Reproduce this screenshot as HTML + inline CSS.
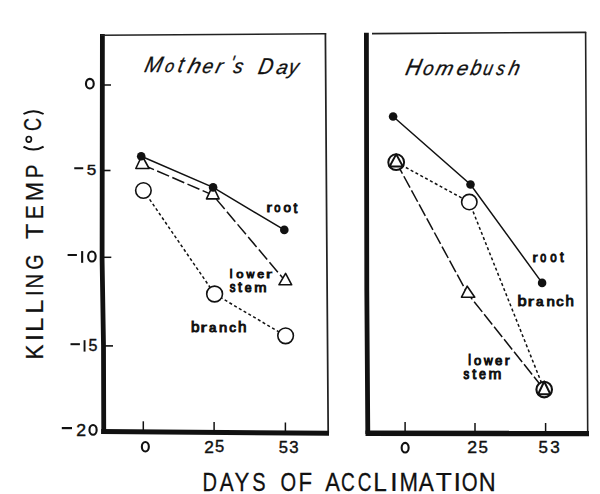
<!DOCTYPE html>
<html><head><meta charset="utf-8">
<style>
html,body{margin:0;padding:0;background:#fff;width:600px;height:494px;overflow:hidden;}
svg{display:block;}
text{font-family:"Liberation Sans",sans-serif;fill:#111;}
.tick{font-size:16px;stroke:#111;stroke-width:0.5px;}
.lab{font-size:16px;stroke:#111;stroke-width:0.7px;}
.ttl{font-size:20px;font-style:italic;}
</style></head>
<body>
<svg width="600" height="494" viewBox="0 0 600 494">
<g stroke="#111" fill="none" stroke-linecap="butt">
  <!-- left panel frame -->
  <path d="M102.4,34 L102.1,260 L103.5,345 L103.75,434" stroke-width="4.8"/>
  <line x1="101" y1="35.2" x2="326.2" y2="33.8" stroke-width="1.6" stroke="#222"/>
  <path d="M325.4,33.2 L326.7,230 L328.2,433" stroke-width="1.75" stroke="#222"/>
  <line x1="101.2" y1="431.6" x2="329" y2="433.3" stroke-width="5"/>
  <!-- y ticks -->
  <line x1="104" y1="85" x2="111" y2="85" stroke-width="1.5"/>
  <line x1="104" y1="170.5" x2="110.5" y2="170.5" stroke-width="1.6"/>
  <line x1="104" y1="257.3" x2="111.3" y2="257.3" stroke-width="1.5"/>
  <line x1="105" y1="345.9" x2="113" y2="345.9" stroke-width="1.6"/>
  <!-- x ticks -->
  <line x1="143.3" y1="421.3" x2="143.3" y2="432" stroke-width="1.5"/>
  <line x1="214.1" y1="422.1" x2="214.1" y2="432" stroke-width="1.5"/>
  <line x1="285.4" y1="422.5" x2="285.4" y2="433" stroke-width="1.5"/>

  <!-- right panel frame -->
  <path d="M366.4,32.7 L366.8,290 L367.8,434" stroke-width="4.8"/>
  <line x1="372" y1="33.6" x2="586.2" y2="32.3" stroke-width="1.7" stroke="#222"/>
  <path d="M585.6,32 L586.7,230 L587.7,433" stroke-width="1.6" stroke="#222"/>
  <line x1="365.5" y1="433.2" x2="589" y2="433.6" stroke-width="5.5"/>
  <line x1="405.1" y1="421.9" x2="405.1" y2="432" stroke-width="1.5"/>
  <line x1="475" y1="423" x2="475" y2="432" stroke-width="1.5"/>
  <line x1="545.6" y1="423" x2="545.6" y2="432" stroke-width="1.5"/>

  <!-- left data -->
  <polyline points="141.2,156.3 213.1,187.4 284.3,229.9" stroke-width="1.5"/>
  <polyline points="142,164.5 212.8,195 285.3,281" stroke-width="1.5" stroke-dasharray="13 3.5"/>
  <polyline points="143.4,190.3 214.6,294 285.6,335.8" stroke-width="1.5" stroke-dasharray="3 2.5"/>
  <!-- right data -->
  <polyline points="393.1,116.5 470.5,184.5 542.1,282.9" stroke-width="1.5"/>
  <polyline points="396.2,162.2 467.2,293 544.2,389.6" stroke-width="1.5" stroke-dasharray="13 3"/>
  <polyline points="396.2,162.2 469.3,202.1 544.2,389.6" stroke-width="1.5" stroke-dasharray="3 2.5"/>
</g>
<!-- markers -->
<g stroke="#111" stroke-width="1.6" stroke-linejoin="round">
  <!-- left: branch circles -->
  <circle cx="143.4" cy="190.5" r="7.75" fill="#fff"/>
  <circle cx="214.6" cy="294" r="7.9" fill="#fff"/>
  <circle cx="285.6" cy="335.8" r="7.8" fill="#fff"/>
  <!-- left: triangles -->
  <polygon points="142,155.5 149.1,168.5 135.8,168.5" fill="#fff"/>
  <polygon points="212.8,185.5 219.1,198.9 206.5,198.9" fill="#fff"/>
  <polygon points="285.6,273.4 291.7,284.8 278.9,284.8" fill="#fff"/>
  <!-- left: root dots -->
  <circle cx="141.2" cy="156.3" r="4.3" fill="#111" stroke="none"/>
  <circle cx="213.1" cy="187.4" r="4.3" fill="#111" stroke="none"/>
  <circle cx="284.3" cy="229.9" r="4.3" fill="#111" stroke="none"/>

  <!-- right: branch circles -->
  <circle cx="396.2" cy="162.2" r="7.9" fill="#fff" stroke-width="2"/>
  <circle cx="469.3" cy="202.1" r="7.7" fill="#fff"/>
  <circle cx="544.2" cy="389.6" r="7.8" fill="#fff" stroke-width="2.1"/>
  <!-- right: triangles -->
  <polygon points="396.2,154.3 402.9,166.5 389.6,166.5" fill="none" stroke-width="1.9"/>
  <polygon points="467.2,286.2 474.8,297.2 461.5,297.2" fill="#fff"/>
  <polygon points="544.2,381.5 550.4,394.2 538.1,394.2" fill="none" stroke-width="2"/>
  <!-- right: root dots -->
  <circle cx="393.1" cy="116.5" r="4.3" fill="#111" stroke="none"/>
  <circle cx="470.5" cy="184.5" r="4.3" fill="#111" stroke="none"/>
  <circle cx="542.1" cy="282.9" r="4.3" fill="#111" stroke="none"/>
</g>

<!-- GEN START -->
<!-- tick labels -->
<ellipse cx="89.85" cy="83.70" rx="3.90" ry="4.85" fill="none" stroke="#111" stroke-width="2.1"/>
<rect x="74.25" y="167.25" width="9.00" height="2.00" fill="#111"/>
<text transform="translate(86.74,175.16) scale(0.1714,0.1556)" style="font-size:100px; stroke:#111; stroke-width:2.45px;">5</text>
<rect x="67.60" y="254.00" width="9.30" height="2.00" fill="#111"/>
<rect x="81.10" y="251.10" width="2.10" height="11.70" fill="#111"/>
<ellipse cx="91.90" cy="256.50" rx="3.75" ry="4.95" fill="none" stroke="#111" stroke-width="2.1"/>
<rect x="70.50" y="343.20" width="9.40" height="2.00" fill="#111"/>
<rect x="83.60" y="340.20" width="1.90" height="11.40" fill="#111"/>
<text transform="translate(88.44,351.46) scale(0.1608,0.1634)" style="font-size:100px; stroke:#111; stroke-width:2.47px;">5</text>
<rect x="61.80" y="427.00" width="10.20" height="2.20" fill="#111"/>
<text transform="translate(76.20,435.52) scale(0.1767,0.1563)" style="font-size:100px; stroke:#111; stroke-width:2.40px;">2</text>
<ellipse cx="93.05" cy="429.90" rx="3.60" ry="4.85" fill="none" stroke="#111" stroke-width="2.1"/>
<ellipse cx="145.35" cy="446.70" rx="3.50" ry="4.75" fill="none" stroke="#111" stroke-width="2.1"/>
<text transform="translate(204.31,452.57) scale(0.1734,0.1663)" style="font-size:100px; stroke:#111; stroke-width:2.36px;">2</text>
<text transform="translate(215.02,452.40) scale(0.1661,0.1663)" style="font-size:100px; stroke:#111; stroke-width:2.41px;">5</text>
<text transform="translate(278.77,452.66) scale(0.1661,0.1591)" style="font-size:100px; stroke:#111; stroke-width:2.46px;">5</text>
<text transform="translate(289.26,452.66) scale(0.1679,0.1569)" style="font-size:100px; stroke:#111; stroke-width:2.46px;">3</text>
<ellipse cx="405.15" cy="447.70" rx="3.50" ry="4.85" fill="none" stroke="#111" stroke-width="2.1"/>
<text transform="translate(467.20,453.32) scale(0.1767,0.1620)" style="font-size:100px; stroke:#111; stroke-width:2.36px;">2</text>
<text transform="translate(478.50,453.16) scale(0.1693,0.1620)" style="font-size:100px; stroke:#111; stroke-width:2.41px;">5</text>
<text transform="translate(538.60,453.16) scale(0.1693,0.1591)" style="font-size:100px; stroke:#111; stroke-width:2.44px;">5</text>
<text transform="translate(550.30,453.16) scale(0.1711,0.1569)" style="font-size:100px; stroke:#111; stroke-width:2.44px;">3</text>
<!-- x label -->
<text transform="translate(202.60,490.89) scale(0.2013,0.2533)" style="font-size:100px; stroke:#111; stroke-width:1.10px;">D</text>
<text transform="translate(219.81,490.89) scale(0.2087,0.2551)" style="font-size:100px; stroke:#111; stroke-width:1.08px;">A</text>
<text transform="translate(234.56,490.89) scale(0.2222,0.2533)" style="font-size:100px; stroke:#111; stroke-width:1.05px;">Y</text>
<text transform="translate(252.31,490.84) scale(0.1996,0.2518)" style="font-size:100px; stroke:#111; stroke-width:1.11px;">S</text>
<text transform="translate(280.61,490.84) scale(0.2011,0.2518)" style="font-size:100px; stroke:#111; stroke-width:1.10px;">O</text>
<text transform="translate(298.44,490.89) scale(0.2219,0.2533)" style="font-size:100px; stroke:#111; stroke-width:1.05px;">F</text>
<text transform="translate(325.20,490.89) scale(0.2208,0.2551)" style="font-size:100px; stroke:#111; stroke-width:1.05px;">A</text>
<text transform="translate(340.91,490.84) scale(0.1909,0.2518)" style="font-size:100px; stroke:#111; stroke-width:1.13px;">C</text>
<text transform="translate(357.86,490.84) scale(0.1901,0.2518)" style="font-size:100px; stroke:#111; stroke-width:1.13px;">C</text>
<text transform="translate(373.16,490.89) scale(0.2444,0.2533)" style="font-size:100px; stroke:#111; stroke-width:1.00px;">L</text>
<text transform="translate(390.08,490.89) scale(0.2816,0.2533)" style="font-size:100px; stroke:#111; stroke-width:0.93px;">I</text>
<text transform="translate(399.54,490.89) scale(0.2220,0.2533)" style="font-size:100px; stroke:#111; stroke-width:1.05px;">M</text>
<text transform="translate(418.70,490.89) scale(0.2254,0.2551)" style="font-size:100px; stroke:#111; stroke-width:1.04px;">A</text>
<text transform="translate(435.65,490.89) scale(0.2633,0.2533)" style="font-size:100px; stroke:#111; stroke-width:0.97px;">T</text>
<text transform="translate(453.47,490.89) scale(0.2711,0.2533)" style="font-size:100px; stroke:#111; stroke-width:0.95px;">I</text>
<text transform="translate(461.69,490.84) scale(0.2040,0.2518)" style="font-size:100px; stroke:#111; stroke-width:1.10px;">O</text>
<text transform="translate(478.64,490.89) scale(0.2344,0.2533)" style="font-size:100px; stroke:#111; stroke-width:1.03px;">N</text>
<!-- y label --><g transform="rotate(-90)">
<text transform="translate(-359.48,42.69) scale(0.2239,0.2330)" style="font-size:100px; stroke:#111; stroke-width:1.09px;">K</text>
<text transform="translate(-341.13,42.69) scale(0.2711,0.2330)" style="font-size:100px; stroke:#111; stroke-width:0.99px;">I</text>
<text transform="translate(-331.95,42.69) scale(0.2579,0.2330)" style="font-size:100px; stroke:#111; stroke-width:1.02px;">L</text>
<text transform="translate(-313.73,42.69) scale(0.2556,0.2330)" style="font-size:100px; stroke:#111; stroke-width:1.02px;">L</text>
<text transform="translate(-296.06,42.69) scale(0.2079,0.2330)" style="font-size:100px; stroke:#111; stroke-width:1.13px;">I</text>
<text transform="translate(-288.51,42.69) scale(0.2031,0.2330)" style="font-size:100px; stroke:#111; stroke-width:1.15px;">N</text>
<text transform="translate(-269.67,42.65) scale(0.1966,0.2335)" style="font-size:100px; stroke:#111; stroke-width:1.16px;">G</text>
<text transform="translate(-239.11,42.69) scale(0.2509,0.2330)" style="font-size:100px; stroke:#111; stroke-width:1.03px;">T</text>
<text transform="translate(-219.27,42.69) scale(0.2106,0.2330)" style="font-size:100px; stroke:#111; stroke-width:1.13px;">E</text>
<text transform="translate(-201.36,42.69) scale(0.2340,0.2330)" style="font-size:100px; stroke:#111; stroke-width:1.07px;">M</text>
<text transform="translate(-178.33,42.69) scale(0.2051,0.2330)" style="font-size:100px; stroke:#111; stroke-width:1.14px;">P</text>
<text transform="translate(-131.09,41.35) scale(0.1806,0.2349)" style="font-size:100px; stroke:#111; stroke-width:1.20px;">C</text>
</g>
<path d="M23.5,114 Q33.5,108.3 43.6,114 M23.5,146.6 Q33.5,152.6 43.6,146.6" fill="none" stroke="#111" stroke-width="2"/>
<ellipse cx="28.8" cy="139.3" rx="2.6" ry="2.8" fill="none" stroke="#111" stroke-width="1.7"/>
<!-- titles -->
<text transform="translate(143.51,72.36) scale(0.2086,0.2223) skewX(-14)" style="font-size:100px; font-style:italic; stroke:#111; stroke-width:1.39px;">M</text>
<text transform="translate(163.92,72.49) scale(0.1617,0.1749) skewX(-14)" style="font-size:100px; font-style:italic; stroke:#111; stroke-width:1.78px;">o</text>
<text transform="translate(176.99,72.44) scale(0.1903,0.2218) skewX(-14)" style="font-size:100px; font-style:italic; stroke:#111; stroke-width:1.46px;">t</text>
<text transform="translate(186.42,72.86) scale(0.2308,0.2101) skewX(-14)" style="font-size:100px; font-style:italic; stroke:#111; stroke-width:1.36px;">h</text>
<text transform="translate(201.20,73.27) scale(0.1912,0.1987) skewX(-14)" style="font-size:100px; font-style:italic; stroke:#111; stroke-width:1.54px;">e</text>
<text transform="translate(214.48,73.36) scale(0.2038,0.2006) skewX(-14)" style="font-size:100px; font-style:italic; stroke:#111; stroke-width:1.48px;">r</text>
<text transform="translate(229.60,70.41) scale(0.1606,0.2084) skewX(-14)" style="font-size:100px; font-style:italic; stroke:#111; stroke-width:1.63px;">'</text>
<text transform="translate(232.38,73.27) scale(0.1860,0.1987) skewX(-14)" style="font-size:100px; font-style:italic; stroke:#111; stroke-width:1.56px;">s</text>
<text transform="translate(257.33,73.86) scale(0.2004,0.2296) skewX(-14)" style="font-size:100px; font-style:italic; stroke:#111; stroke-width:1.40px;">D</text>
<text transform="translate(275.22,73.67) scale(0.2023,0.1969) skewX(-14)" style="font-size:100px; font-style:italic; stroke:#111; stroke-width:1.50px;">a</text>
<text transform="translate(287.44,74.16) scale(0.1914,0.2100) skewX(-14)" style="font-size:100px; font-style:italic; stroke:#111; stroke-width:1.49px;">y</text>
<text transform="translate(404.40,74.61) scale(0.2108,0.2333) skewX(-14)" style="font-size:100px; font-style:italic; stroke:#111; stroke-width:1.35px;">H</text>
<text transform="translate(422.04,74.57) scale(0.1857,0.1969) skewX(-14)" style="font-size:100px; font-style:italic; stroke:#111; stroke-width:1.57px;">o</text>
<text transform="translate(434.42,74.61) scale(0.2084,0.1978) skewX(-14)" style="font-size:100px; font-style:italic; stroke:#111; stroke-width:1.48px;">m</text>
<text transform="translate(455.50,74.57) scale(0.2043,0.1969) skewX(-14)" style="font-size:100px; font-style:italic; stroke:#111; stroke-width:1.50px;">e</text>
<text transform="translate(469.60,74.55) scale(0.1915,0.2127) skewX(-14)" style="font-size:100px; font-style:italic; stroke:#111; stroke-width:1.48px;">b</text>
<text transform="translate(482.25,74.56) scale(0.1686,0.2006) skewX(-14)" style="font-size:100px; font-style:italic; stroke:#111; stroke-width:1.63px;">u</text>
<text transform="translate(495.40,74.57) scale(0.1633,0.1969) skewX(-14)" style="font-size:100px; font-style:italic; stroke:#111; stroke-width:1.67px;">s</text>
<text transform="translate(507.44,74.61) scale(0.1955,0.2052) skewX(-14)" style="font-size:100px; font-style:italic; stroke:#111; stroke-width:1.50px;">h</text>
<!-- data labels -->
<text transform="translate(266.38,212.25) scale(0.1640,0.1315)" style="font-size:100px; stroke:#111; stroke-width:6.77px;">r</text>
<text transform="translate(274.30,212.42) scale(0.1116,0.1345)" style="font-size:100px; stroke:#111; stroke-width:8.13px;">o</text>
<text transform="translate(283.61,212.42) scale(0.1347,0.1345)" style="font-size:100px; stroke:#111; stroke-width:7.43px;">o</text>
<text transform="translate(293.54,212.70) scale(0.1373,0.1481)" style="font-size:100px; stroke:#111; stroke-width:7.01px;">t</text>
<text transform="translate(229.86,277.55) scale(0.1222,0.1310)" style="font-size:100px; stroke:#111; stroke-width:7.90px;">l</text>
<text transform="translate(236.33,277.63) scale(0.1305,0.1164)" style="font-size:100px; stroke:#111; stroke-width:8.10px;">o</text>
<text transform="translate(246.45,277.55) scale(0.1083,0.1170)" style="font-size:100px; stroke:#111; stroke-width:8.88px;">w</text>
<text transform="translate(257.14,277.63) scale(0.1237,0.1164)" style="font-size:100px; stroke:#111; stroke-width:8.33px;">e</text>
<text transform="translate(266.07,277.55) scale(0.1820,0.1148)" style="font-size:100px; stroke:#111; stroke-width:6.74px;">r</text>
<text transform="translate(229.86,291.61) scale(0.1138,0.1376)" style="font-size:100px; stroke:#111; stroke-width:7.96px;">s</text>
<text transform="translate(237.94,291.60) scale(0.1431,0.1458)" style="font-size:100px; stroke:#111; stroke-width:6.92px;">t</text>
<text transform="translate(244.64,291.61) scale(0.1237,0.1364)" style="font-size:100px; stroke:#111; stroke-width:7.69px;">e</text>
<text transform="translate(254.24,291.55) scale(0.1479,0.1352)" style="font-size:100px; stroke:#111; stroke-width:7.07px;">m</text>
<text transform="translate(191.05,331.90) scale(0.1533,0.1497)" style="font-size:100px; stroke:#111; stroke-width:6.60px;">b</text>
<text transform="translate(200.60,331.85) scale(0.1920,0.1315)" style="font-size:100px; stroke:#111; stroke-width:6.18px;">r</text>
<text transform="translate(209.05,331.92) scale(0.1333,0.1327)" style="font-size:100px; stroke:#111; stroke-width:7.52px;">a</text>
<text transform="translate(218.99,331.85) scale(0.1482,0.1315)" style="font-size:100px; stroke:#111; stroke-width:7.15px;">n</text>
<text transform="translate(229.14,331.92) scale(0.1349,0.1327)" style="font-size:100px; stroke:#111; stroke-width:7.47px;">c</text>
<text transform="translate(237.98,331.85) scale(0.1524,0.1490)" style="font-size:100px; stroke:#111; stroke-width:6.64px;">h</text>
<text transform="translate(532.46,261.55) scale(0.1520,0.1370)" style="font-size:100px; stroke:#111; stroke-width:6.92px;">r</text>
<text transform="translate(540.32,261.71) scale(0.1074,0.1400)" style="font-size:100px; stroke:#111; stroke-width:8.09px;">o</text>
<text transform="translate(550.29,261.71) scale(0.1158,0.1400)" style="font-size:100px; stroke:#111; stroke-width:7.82px;">o</text>
<text transform="translate(559.95,261.70) scale(0.1333,0.1481)" style="font-size:100px; stroke:#111; stroke-width:7.11px;">t</text>
<text transform="translate(517.48,305.90) scale(0.1644,0.1497)" style="font-size:100px; stroke:#111; stroke-width:6.37px;">b</text>
<text transform="translate(527.73,305.85) scale(0.1880,0.1315)" style="font-size:100px; stroke:#111; stroke-width:6.26px;">r</text>
<text transform="translate(536.04,305.92) scale(0.1353,0.1327)" style="font-size:100px; stroke:#111; stroke-width:7.46px;">a</text>
<text transform="translate(546.47,305.85) scale(0.1506,0.1315)" style="font-size:100px; stroke:#111; stroke-width:7.09px;">n</text>
<text transform="translate(556.19,305.92) scale(0.1465,0.1327)" style="font-size:100px; stroke:#111; stroke-width:7.16px;">c</text>
<text transform="translate(565.60,305.85) scale(0.1500,0.1490)" style="font-size:100px; stroke:#111; stroke-width:6.69px;">h</text>
<text transform="translate(468.26,364.95) scale(0.1222,0.1421)" style="font-size:100px; stroke:#111; stroke-width:7.57px;">l</text>
<text transform="translate(473.93,365.02) scale(0.1305,0.1309)" style="font-size:100px; stroke:#111; stroke-width:7.65px;">o</text>
<text transform="translate(484.05,364.95) scale(0.1200,0.1321)" style="font-size:100px; stroke:#111; stroke-width:7.93px;">w</text>
<text transform="translate(495.10,365.02) scale(0.1323,0.1309)" style="font-size:100px; stroke:#111; stroke-width:7.60px;">e</text>
<text transform="translate(504.75,364.95) scale(0.1460,0.1296)" style="font-size:100px; stroke:#111; stroke-width:7.26px;">r</text>
<text transform="translate(463.61,379.41) scale(0.1149,0.1440)" style="font-size:100px; stroke:#111; stroke-width:7.72px;">s</text>
<text transform="translate(472.13,379.40) scale(0.1451,0.1511)" style="font-size:100px; stroke:#111; stroke-width:6.75px;">t</text>
<text transform="translate(478.89,379.41) scale(0.1247,0.1427)" style="font-size:100px; stroke:#111; stroke-width:7.48px;">e</text>
<text transform="translate(488.45,379.35) scale(0.1543,0.1417)" style="font-size:100px; stroke:#111; stroke-width:6.76px;">m</text>
<!-- GEN END -->
</svg>
</body></html>
